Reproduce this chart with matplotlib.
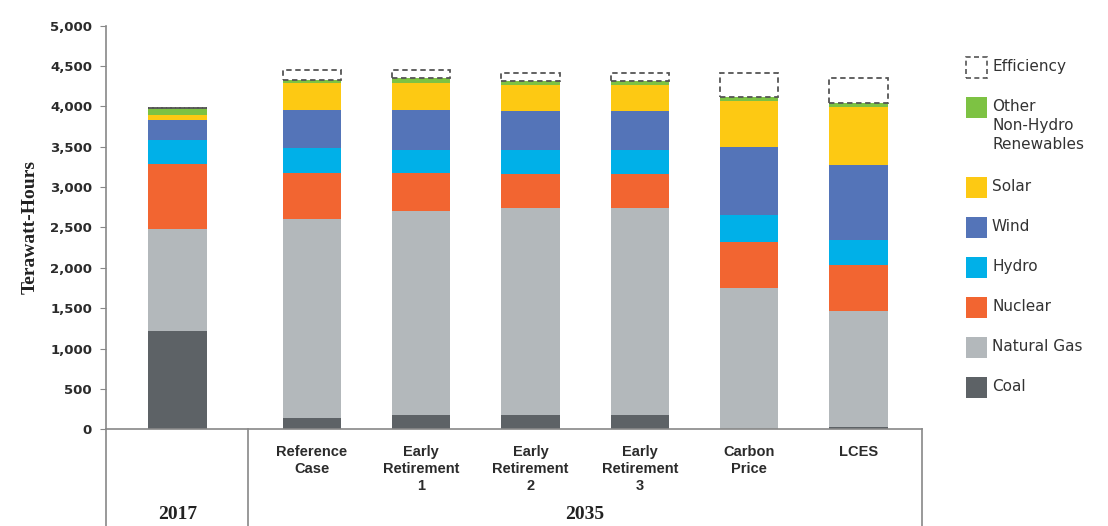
import numpy as np
import matplotlib.pyplot as plt
from matplotlib.patches import Rectangle

# datos (TWh)
escenarios = ["2017", "Reference\nCase", "Early\nRetirement\n1", "Early\nRetirement\n2",
              "Early\nRetirement\n3", "Carbon\nPrice", "LCES"]
coal = [1220, 145, 175, 175, 175, 0, 30]
natural_gas = [1260, 2465, 2525, 2570, 2570, 1745, 1430]
nuclear = [805, 560, 470, 415, 415, 580, 570]
hydro = [300, 320, 295, 305, 305, 325, 320]
wind = [250, 470, 495, 475, 475, 845, 920]
solar = [60, 330, 335, 320, 320, 570, 725]
other = [85, 40, 55, 50, 50, 50, 50]
efficiency = [0, 115, 100, 110, 110, 305, 310]

series = [("Coal", coal, "#5d6266"),
          ("Natural Gas", natural_gas, "#b3b8bb"),
          ("Nuclear", nuclear, "#f26531"),
          ("Hydro", hydro, "#00b0e8"),
          ("Wind", wind, "#5474b8"),
          ("Solar", solar, "#fdc913"),
          ("Other\nNon-Hydro\nRenewables", other, "#7dc243")]

fig = plt.figure(figsize=(11.08, 5.26), dpi=100)
W, H = 1108, 526
ax = fig.add_axes([106 / W, (H - 429.3) / H, (922 - 106) / W, (429.3 - 25.7) / H])

# posiciones: 2017 separado del grupo 2035
x = np.arange(len(escenarios)) + np.where(np.arange(len(escenarios)) > 0, 0.23, 0)
ancho = 0.534

bottom = np.zeros(len(escenarios))
for nombre, vals, color in series:
    ax.bar(x, vals, ancho, bottom=bottom, color=color, linewidth=0, zorder=2)
    bottom += np.array(vals)

# eficiencia: caja punteada
ax.bar(x, efficiency, ancho, bottom=bottom, facecolor="none", edgecolor="#555555",
       linestyle=(0, (3, 2)), linewidth=1.3, zorder=3)

ax.set_xlim(-0.654, 6.81)
ax.set_ylim(0, 5000)
ax.set_yticks(np.arange(0, 5001, 500))
ax.set_yticklabels([f"{v:,}" for v in range(0, 5001, 500)], fontsize=9.5,
                   color="#2b2b2b", fontweight="bold", family="DejaVu Sans")
ax.tick_params(axis="y", length=4, color="#888888", pad=6)
ax.set_xticks([])
for s in ["top", "right"]:
    ax.spines[s].set_visible(False)
ax.spines["left"].set_color("#888888")
ax.spines["bottom"].set_color("#888888")
ax.spines["left"].set_linewidth(1.2)
ax.spines["bottom"].set_linewidth(1.2)

ax.set_ylabel("Terawatt-Hours", family="Liberation Serif", fontweight="bold",
              fontsize=14, color="#222222", labelpad=8)

# lineas de la tabla inferior
for xp in [106, 247.7, 922]:
    fig.add_artist(plt.Line2D([xp / W, xp / W], [0, (H - 429.3) / H],
                              color="#888888", linewidth=1.2))

# etiquetas de escenarios
for xi, lab in zip(x[1:], escenarios[1:]):
    ax.text(xi, -190, lab, ha="center", va="top", fontsize=10.5, color="#2b2b2b",
            family="Liberation Sans", fontweight="bold", linespacing=1.3)

fig.text(177.5 / W, (H - 506) / H, "2017", ha="center", va="top", fontsize=14,
         family="Liberation Serif", fontweight="bold", color="#222222")
fig.text(585 / W, (H - 506) / H, "2035", ha="center", va="top", fontsize=14,
         family="Liberation Serif", fontweight="bold", color="#222222")

# leyenda manual
items = [("Efficiency", None)] + [(n, c) for n, _, c in reversed(series)]
tops = [56.7, 96.7, 176.7, 216.7, 256.7, 296.7, 336.7, 376.7]
for (nombre, color), top in zip(items, tops):
    if color is None:
        r = Rectangle((966 / W, (H - top - 21) / H), 21 / W, 21 / H, transform=fig.transFigure,
                      facecolor="white", edgecolor="#555555", linestyle=(0, (3, 2)), linewidth=1.2)
    else:
        r = Rectangle((966 / W, (H - top - 21) / H), 21 / W, 21 / H, transform=fig.transFigure,
                      facecolor=color, edgecolor="none")
    fig.add_artist(r)
    fig.text(992 / W, (H - top - 2) / H, nombre, ha="left", va="top", fontsize=11,
             color="#333333", family="DejaVu Sans", linespacing=1.35)

plt.savefig("out.png", dpi=100)
